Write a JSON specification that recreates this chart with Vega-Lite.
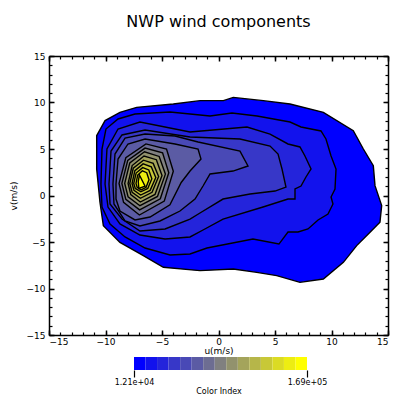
{
"$schema": "https://vega.github.io/schema/vega-lite/v6.json",
"background": "white",
"padding": {"left": 9, "top": 14, "right": 4, "bottom": 0},
"spacing": 22,
"bounds": "flush",
"config": {"view": {"stroke": null}, "font": "DejaVu Sans",
  "axis": {"labelFont": "DejaVu Sans", "labelFontSize": 9, "labelColor": "black", "titleFont": "DejaVu Sans", "titleFontSize": 9, "titleFontWeight": "normal", "titleColor": "black", "tickColor": "black", "domainColor": "black", "grid": false}},
"datasets": {
"contours": [
{"level":0,"i":0,"u":-10.78,"v":6.43},{"level":0,"i":1,"u":-10.04,"v":8.05},{"level":0,"i":2,"u":-8.72,"v":8.94},{"level":0,"i":3,"u":-7.24,"v":9.48},{"level":0,"i":4,"u":-4.0,"v":9.84},{"level":0,"i":5,"u":-1.64,"v":10.2},{"level":0,"i":6,"u":0.43,"v":10.2},{"level":0,"i":7,"u":1.31,"v":10.55},{"level":0,"i":8,"u":3.97,"v":10.2},{"level":0,"i":9,"u":6.33,"v":9.84},{"level":0,"i":10,"u":9.28,"v":8.94},{"level":0,"i":11,"u":11.93,"v":6.97},{"level":0,"i":12,"u":12.82,"v":5.0},{"level":0,"i":13,"u":13.7,"v":3.21},{"level":0,"i":14,"u":13.85,"v":1.06},{"level":0,"i":15,"u":14.44,"v":-1.09},{"level":0,"i":16,"u":14.29,"v":-2.88},{"level":0,"i":17,"u":13.41,"v":-3.96},{"level":0,"i":18,"u":12.23,"v":-5.39},{"level":0,"i":19,"u":11.05,"v":-7.19},{"level":0,"i":20,"u":9.28,"v":-8.98},{"level":0,"i":21,"u":7.21,"v":-9.34},{"level":0,"i":22,"u":5.15,"v":-8.62},{"level":0,"i":23,"u":3.38,"v":-8.26},{"level":0,"i":24,"u":1.31,"v":-7.9},{"level":0,"i":25,"u":-1.64,"v":-8.08},{"level":0,"i":26,"u":-4.88,"v":-7.72},{"level":0,"i":27,"u":-6.65,"v":-6.47},{"level":0,"i":28,"u":-8.72,"v":-5.04},{"level":0,"i":29,"u":-10.19,"v":-3.24},{"level":0,"i":30,"u":-10.49,"v":-0.73},{"level":0,"i":31,"u":-10.78,"v":2.85},
{"level":1,"i":0,"u":-10.4,"v":1.24},{"level":1,"i":1,"u":-10.31,"v":5.0},{"level":1,"i":2,"u":-9.96,"v":7.15},{"level":1,"i":3,"u":-8.89,"v":8.23},{"level":1,"i":4,"u":-7.39,"v":8.76},{"level":1,"i":5,"u":-4.29,"v":8.98},{"level":1,"i":6,"u":-0.75,"v":8.55},{"level":1,"i":7,"u":1.19,"v":8.87},{"level":1,"i":8,"u":3.41,"v":8.55},{"level":1,"i":9,"u":6.33,"v":7.9},{"level":1,"i":10,"u":7.3,"v":7.37},{"level":1,"i":11,"u":9.07,"v":6.94},{"level":1,"i":12,"u":9.51,"v":6.08},{"level":1,"i":13,"u":9.96,"v":4.25},{"level":1,"i":14,"u":10.4,"v":2.85},{"level":1,"i":15,"u":10.31,"v":0.7},{"level":1,"i":16,"u":9.96,"v":-0.16},{"level":1,"i":17,"u":10.13,"v":-0.91},{"level":1,"i":18,"u":9.69,"v":-1.99},{"level":1,"i":19,"u":8.81,"v":-2.63},{"level":1,"i":20,"u":7.92,"v":-3.6},{"level":1,"i":21,"u":7.04,"v":-3.92},{"level":1,"i":22,"u":6.15,"v":-3.92},{"level":1,"i":23,"u":5.35,"v":-5.22},{"level":1,"i":24,"u":3.05,"v":-4.68},{"level":1,"i":25,"u":-1.02,"v":-5.65},{"level":1,"i":26,"u":-2.52,"v":-6.29},{"level":1,"i":27,"u":-4.29,"v":-6.4},{"level":1,"i":28,"u":-6.5,"v":-5.65},{"level":1,"i":29,"u":-8.27,"v":-4.46},{"level":1,"i":30,"u":-9.6,"v":-3.06},{"level":1,"i":31,"u":-10.31,"v":-1.24},
{"level":2,"i":0,"u":-10.04,"v":1.24},{"level":2,"i":1,"u":-9.87,"v":5.0},{"level":2,"i":2,"u":-8.89,"v":7.15},{"level":2,"i":3,"u":-6.95,"v":7.9},{"level":2,"i":4,"u":-2.52,"v":6.83},{"level":2,"i":5,"u":2.52,"v":7.37},{"level":2,"i":6,"u":4.56,"v":6.61},{"level":2,"i":7,"u":6.15,"v":5.54},{"level":2,"i":8,"u":7.21,"v":5.22},{"level":2,"i":9,"u":7.65,"v":4.25},{"level":2,"i":10,"u":8.19,"v":2.85},{"level":2,"i":11,"u":7.74,"v":1.99},{"level":2,"i":12,"u":7.3,"v":1.02},{"level":2,"i":13,"u":6.77,"v":0.7},{"level":2,"i":14,"u":6.77,"v":-0.38},{"level":2,"i":15,"u":6.15,"v":-0.38},{"level":2,"i":16,"u":3.94,"v":-1.24},{"level":2,"i":17,"u":0.4,"v":-2.53},{"level":2,"i":18,"u":-1.37,"v":-3.71},{"level":2,"i":19,"u":-2.52,"v":-4.46},{"level":2,"i":20,"u":-4.73,"v":-4.68},{"level":2,"i":21,"u":-6.95,"v":-4.25},{"level":2,"i":22,"u":-8.72,"v":-3.06},{"level":2,"i":23,"u":-9.78,"v":-1.24},
{"level":3,"i":0,"u":-9.69,"v":1.24},{"level":3,"i":1,"u":-9.51,"v":4.78},{"level":3,"i":2,"u":-8.54,"v":6.51},{"level":3,"i":3,"u":-6.5,"v":7.04},{"level":3,"i":4,"u":-2.52,"v":6.29},{"level":3,"i":5,"u":1.9,"v":6.08},{"level":3,"i":6,"u":4.56,"v":5.32},{"level":3,"i":7,"u":5.27,"v":4.46},{"level":3,"i":8,"u":5.62,"v":2.85},{"level":3,"i":9,"u":5.97,"v":0.91},{"level":3,"i":10,"u":5.0,"v":0.48},{"level":3,"i":11,"u":2.79,"v":0.16},{"level":3,"i":12,"u":0.4,"v":-0.38},{"level":3,"i":13,"u":-1.64,"v":-1.88},{"level":3,"i":14,"u":-2.52,"v":-2.53},{"level":3,"i":15,"u":-4.73,"v":-3.6},{"level":3,"i":16,"u":-6.95,"v":-3.82},{"level":3,"i":17,"u":-8.54,"v":-2.53},{"level":3,"i":18,"u":-9.6,"v":-0.91},
{"level":4,"i":0,"u":-9.34,"v":1.24},{"level":4,"i":1,"u":-9.16,"v":4.46},{"level":4,"i":2,"u":-8.27,"v":6.18},{"level":4,"i":3,"u":-6.5,"v":6.61},{"level":4,"i":4,"u":-3.85,"v":6.4},{"level":4,"i":5,"u":-1.81,"v":5.75},{"level":4,"i":6,"u":1.9,"v":4.78},{"level":4,"i":7,"u":2.61,"v":3.17},{"level":4,"i":8,"u":1.28,"v":2.63},{"level":4,"i":9,"u":-0.75,"v":2.31},{"level":4,"i":10,"u":-1.37,"v":1.02},{"level":4,"i":11,"u":-2.08,"v":-0.38},{"level":4,"i":12,"u":-3.41,"v":-1.67},{"level":4,"i":13,"u":-5.18,"v":-2.74},{"level":4,"i":14,"u":-6.95,"v":-3.28},{"level":4,"i":15,"u":-8.27,"v":-2.74},{"level":4,"i":16,"u":-9.25,"v":-0.91},
{"level":5,"i":0,"u":-9.07,"v":1.24},{"level":5,"i":1,"u":-8.89,"v":3.92},{"level":5,"i":2,"u":-8.01,"v":5.54},{"level":5,"i":3,"u":-6.5,"v":6.08},{"level":5,"i":4,"u":-3.85,"v":5.54},{"level":5,"i":5,"u":-1.81,"v":5.0},{"level":5,"i":6,"u":-1.55,"v":3.92},{"level":5,"i":7,"u":-2.52,"v":2.63},{"level":5,"i":8,"u":-3.3,"v":1.4},{"level":5,"i":9,"u":-4.3,"v":-1.0},{"level":5,"i":10,"u":-6.06,"v":-2.31},{"level":5,"i":11,"u":-7.39,"v":-2.63},{"level":5,"i":12,"u":-8.72,"v":-1.67},{"level":5,"i":13,"u":-9.07,"v":-0.38},
{"level":6,"i":0,"u":-8.8,"v":1.3},{"level":6,"i":1,"u":-8.2,"v":4.06},{"level":6,"i":2,"u":-6.42,"v":5.55},{"level":6,"i":3,"u":-4.6,"v":5.0},{"level":6,"i":4,"u":-4.0,"v":2.6},{"level":6,"i":5,"u":-4.8,"v":-0.6},{"level":6,"i":6,"u":-7.0,"v":-2.1},{"level":6,"i":7,"u":-8.4,"v":-0.74},
{"level":7,"i":0,"u":-8.55,"v":1.3},{"level":7,"i":1,"u":-8.03,"v":3.77},{"level":7,"i":2,"u":-6.5,"v":5.1},{"level":7,"i":3,"u":-4.95,"v":4.6},{"level":7,"i":4,"u":-4.4,"v":2.45},{"level":7,"i":5,"u":-5.15,"v":-0.35},{"level":7,"i":6,"u":-6.98,"v":-1.55},{"level":7,"i":7,"u":-8.2,"v":-0.41},
{"level":8,"i":0,"u":-8.3,"v":1.3},{"level":8,"i":1,"u":-7.85,"v":3.51},{"level":8,"i":2,"u":-6.55,"v":4.7},{"level":8,"i":3,"u":-5.25,"v":4.2},{"level":8,"i":4,"u":-4.7,"v":2.3},{"level":8,"i":5,"u":-5.4,"v":-0.1},{"level":8,"i":6,"u":-6.95,"v":-1.1},{"level":8,"i":7,"u":-8.0,"v":-0.14},
{"level":9,"i":0,"u":-8.0,"v":1.3},{"level":9,"i":1,"u":-7.64,"v":3.22},{"level":9,"i":2,"u":-6.59,"v":4.25},{"level":9,"i":3,"u":-5.5,"v":3.85},{"level":9,"i":4,"u":-5.0,"v":2.15},{"level":9,"i":5,"u":-5.62,"v":0.12},{"level":9,"i":6,"u":-6.92,"v":-0.7},{"level":9,"i":7,"u":-7.76,"v":0.1},
{"level":10,"i":0,"u":-7.85,"v":1.3},{"level":10,"i":1,"u":-7.54,"v":2.93},{"level":10,"i":2,"u":-6.64,"v":3.8},{"level":10,"i":3,"u":-5.78,"v":3.45},{"level":10,"i":4,"u":-5.3,"v":2.05},{"level":10,"i":5,"u":-5.88,"v":0.34},{"level":10,"i":6,"u":-6.91,"v":-0.3},{"level":10,"i":7,"u":-7.64,"v":0.34},
{"level":11,"i":0,"u":-7.65,"v":1.3},{"level":11,"i":1,"u":-7.4,"v":2.67},{"level":11,"i":2,"u":-6.67,"v":3.4},{"level":11,"i":3,"u":-5.95,"v":3.09},{"level":11,"i":4,"u":-5.55,"v":1.93},{"level":11,"i":5,"u":-6.05,"v":0.55},{"level":11,"i":6,"u":-6.89,"v":0.05},{"level":11,"i":7,"u":-7.48,"v":0.55},
{"level":12,"i":0,"u":-7.5,"v":1.3},{"level":12,"i":1,"u":-7.29,"v":2.41},{"level":12,"i":2,"u":-6.71,"v":3.0},{"level":12,"i":3,"u":-6.17,"v":2.75},{"level":12,"i":4,"u":-5.9,"v":1.81},{"level":12,"i":5,"u":-6.26,"v":0.76},{"level":12,"i":6,"u":-6.87,"v":0.4},{"level":12,"i":7,"u":-7.36,"v":0.76},
{"level":13,"i":0,"u":-7.3,"v":1.3},{"level":13,"i":1,"u":-7.15,"v":2.18},{"level":13,"i":2,"u":-6.74,"v":2.65},{"level":13,"i":3,"u":-6.35,"v":2.45},{"level":13,"i":4,"u":-6.15,"v":1.7},{"level":13,"i":5,"u":-6.41,"v":0.88},{"level":13,"i":6,"u":-6.85,"v":0.6},{"level":13,"i":7,"u":-7.2,"v":0.88},
{"level":14,"i":0,"u":-7.0,"v":2.2},{"level":14,"i":1,"u":-6.5,"v":1.0},{"level":14,"i":2,"u":-7.05,"v":0.75},{"level":14,"i":3,"u":-7.1,"v":1.5}
],
"frame": [{"u":-15,"v":-15},{"u":15,"v":15}],
"bar": [
{"level":0,"lo":0,"hi":1},{"level":1,"lo":1,"hi":2},{"level":2,"lo":2,"hi":3},{"level":3,"lo":3,"hi":4},{"level":4,"lo":4,"hi":5},{"level":5,"lo":5,"hi":6},{"level":6,"lo":6,"hi":7},{"level":7,"lo":7,"hi":8},{"level":8,"lo":8,"hi":9},{"level":9,"lo":9,"hi":10},{"level":10,"lo":10,"hi":11},{"level":11,"lo":11,"hi":12},{"level":12,"lo":12,"hi":13},{"level":13,"lo":13,"hi":14},{"level":14,"lo":14,"hi":15}
]
},
"vconcat": [
{
 "width": 339, "height": 279,
 "title": {"text": "NWP wind components", "fontSize": 16, "fontWeight": "normal", "font": "DejaVu Sans", "anchor": "middle", "frame": "group", "offset": 22, "color": "black"},
 "layer": [
  {
   "data": {"name": "contours"},
   "mark": {"type": "line", "filled": true, "stroke": "black", "strokeWidth": 1.4, "interpolate": "linear-closed", "fillOpacity": 1},
   "encoding": {
    "x": {"field": "u", "type": "quantitative", "scale": {"domain": [-15, 15], "nice": false, "zero": false},
          "axis": {"orient": "bottom", "values": [-15, -10, -5, 0, 5, 10, 15], "tickSize": -5, "tickWidth": 1.5, "domainWidth": 1.5, "labelPadding": 7, "title": "u(m/s)", "titlePadding": 0}},
    "y": {"field": "v", "type": "quantitative", "scale": {"domain": [-15, 15], "nice": false, "zero": false},
          "axis": {"orient": "left", "values": [-15, -10, -5, 0, 5, 10, 15], "tickSize": -5, "tickWidth": 1.5, "domainWidth": 1.5, "labelPadding": 9, "title": "v(m/s)", "titlePadding": 8}},
    "order": {"field": "i", "type": "quantitative"},
    "detail": {"field": "level", "type": "nominal"},
    "color": {"field": "level", "type": "ordinal", "legend": null,
      "scale": {"domain": [0,1,2,3,4,5,6,7,8,9,10,11,12,13,14], "range": ["#0000ff","#1212ed","#2424db","#3737c8","#4949b6","#5b5ba4","#6d6d92","#808080","#92926d","#a4a45b","#b6b649","#c8c837","#dbdb24","#eded12","#ffff00"]}}
   }
  },
  {
   "data": {"name": "frame"},
   "mark": {"type": "point", "opacity": 0},
   "encoding": {
    "x": {"field": "u", "type": "quantitative", "scale": {"domain": [-15, 15], "nice": false, "zero": false},
          "axis": {"orient": "bottom", "values": [-15,-14,-13,-12,-11,-10,-9,-8,-7,-6,-5,-4,-3,-2,-1,0,1,2,3,4,5,6,7,8,9,10,11,12,13,14,15], "tickSize": -3, "tickWidth": 1.2, "labels": false, "domain": false, "title": null}},
    "y": {"field": "v", "type": "quantitative", "scale": {"domain": [-15, 15], "nice": false, "zero": false},
          "axis": {"orient": "left", "values": [-15,-14,-13,-12,-11,-10,-9,-8,-7,-6,-5,-4,-3,-2,-1,0,1,2,3,4,5,6,7,8,9,10,11,12,13,14,15], "tickSize": -3, "tickWidth": 1.2, "labels": false, "domain": false, "title": null}}
   }
  },
  {
   "data": {"name": "frame"},
   "mark": {"type": "point", "opacity": 0},
   "encoding": {
    "x": {"field": "u", "type": "quantitative", "scale": {"domain": [-15, 15], "nice": false, "zero": false},
          "axis": {"orient": "top", "values": [-15, -10, -5, 0, 5, 10, 15], "tickSize": -5, "tickWidth": 1.5, "domainWidth": 1.5, "labels": false, "title": null}},
    "y": {"field": "v", "type": "quantitative", "scale": {"domain": [-15, 15], "nice": false, "zero": false},
          "axis": {"orient": "right", "values": [-15, -10, -5, 0, 5, 10, 15], "tickSize": -5, "tickWidth": 1.5, "domainWidth": 1.5, "labels": false, "title": null}}
   }
  },
  {
   "data": {"name": "frame"},
   "mark": {"type": "point", "opacity": 0},
   "encoding": {
    "x": {"field": "u", "type": "quantitative", "scale": {"domain": [-15, 15], "nice": false, "zero": false},
          "axis": {"orient": "top", "values": [-15,-14,-13,-12,-11,-10,-9,-8,-7,-6,-5,-4,-3,-2,-1,0,1,2,3,4,5,6,7,8,9,10,11,12,13,14,15], "tickSize": -3, "tickWidth": 1.2, "labels": false, "domain": false, "title": null}},
    "y": {"field": "v", "type": "quantitative", "scale": {"domain": [-15, 15], "nice": false, "zero": false},
          "axis": {"orient": "right", "values": [-15,-14,-13,-12,-11,-10,-9,-8,-7,-6,-5,-4,-3,-2,-1,0,1,2,3,4,5,6,7,8,9,10,11,12,13,14,15], "tickSize": -3, "tickWidth": 1.2, "labels": false, "domain": false, "title": null}}
   }
  }
 ],
 "resolve": {"axis": {"x": "independent", "y": "independent"}}
},
{
 "width": 339, "height": 13,
 "data": {"name": "bar"},
 "mark": {"type": "rect"},
 "encoding": {
  "x": {"field": "lo", "type": "quantitative", "scale": {"domain": [-7.37, 22.024], "nice": false, "zero": false},
        "axis": {"values": [0, 15], "labelExpr": "datum.value == 0 ? '1.21e+04' : '1.69e+05'", "tickSize": 7, "tickWidth": 1.2, "domain": false, "labelPadding": 1, "labelFontSize": 8, "title": "Color Index", "titleFontSize": 8, "titlePadding": 1}},
  "x2": {"field": "hi"},
  "color": {"field": "level", "type": "ordinal", "legend": null,
    "scale": {"domain": [0,1,2,3,4,5,6,7,8,9,10,11,12,13,14], "range": ["#0000ff","#1212ed","#2424db","#3737c8","#4949b6","#5b5ba4","#6d6d92","#808080","#92926d","#a4a45b","#b6b649","#c8c837","#dbdb24","#eded12","#ffff00"]}}
 }
}
]
}
